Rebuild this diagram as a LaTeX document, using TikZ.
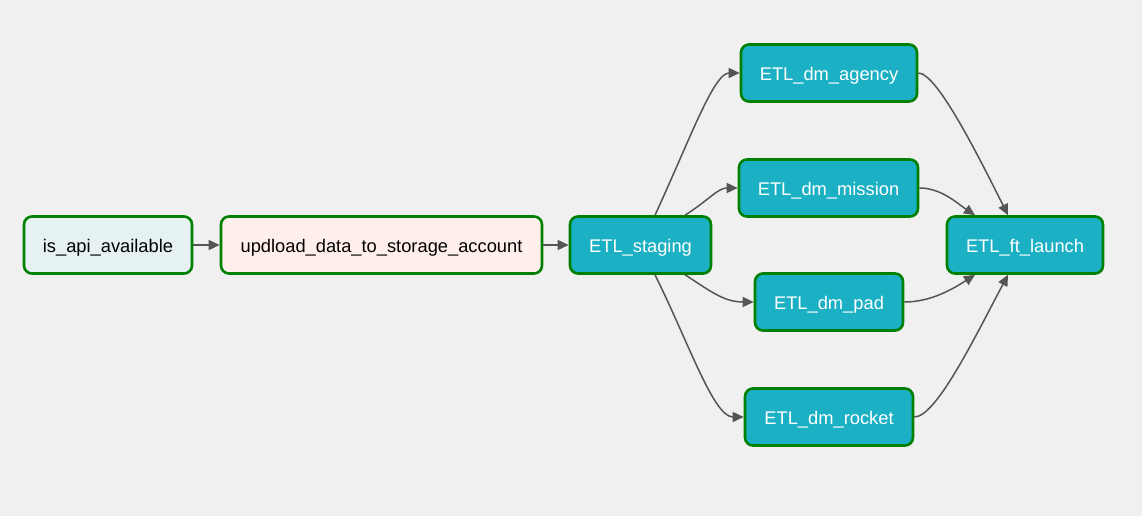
\documentclass[tikz,border=0pt]{standalone}
\usepackage{fontspec}
\setmainfont{Liberation Sans}
\usetikzlibrary{arrows.meta}
\definecolor{bgc}{HTML}{F0F0F0}
\definecolor{tealf}{HTML}{1CB0C4}
\definecolor{bord}{HTML}{008000}
\definecolor{sensorf}{HTML}{E6F1F2}
\definecolor{peachf}{HTML}{FFEFEB}
\definecolor{edgec}{HTML}{555555}
\tikzset{
  task/.style={draw=bord, line width=2.6pt, rounded corners=8pt, inner sep=0pt,
    minimum height=57pt, text height=15.4pt, text depth=0pt,
    font=\fontsize{18.3pt}{21pt}\selectfont},
  etl/.style={task, fill=tealf, text=white},
  edge/.style={draw=edgec, line width=1.5pt, -{Triangle[length=11pt,width=10pt]}},
}
\begin{document}
\begin{tikzpicture}[x=1pt,y=-1pt]
\fill[bgc] (0,0) rectangle (1142,516);
\useasboundingbox (0,0) rectangle (1142,516);
\node[task, fill=sensorf, minimum width=168pt] (api) at (108,245) {is\_api\_available};
\node[task, fill=peachf, minimum width=321pt] (upload) at (381.5,245) {updload\_data\_to\_storage\_account};
\node[etl, minimum width=141pt] (staging) at (640.5,245) {ETL\_staging};
\node[etl, minimum width=176pt] (agency) at (829,73) {ETL\_dm\_agency};
\node[etl, minimum width=179pt] (mission) at (828.5,188) {ETL\_dm\_mission};
\node[etl, minimum width=148pt] (pad) at (829,302) {ETL\_dm\_pad};
\node[etl, minimum width=168pt] (rocket) at (829,417) {ETL\_dm\_rocket};
\node[etl, minimum width=156pt] (launch) at (1025,245) {ETL\_ft\_launch};

\draw[edge] (api.east) -- (upload.west);
\draw[edge] (upload.east) -- (staging.west);

\draw[edge] ([xshift=14.5pt]staging.north) .. controls +(35,-76) and +(-26,0) .. (agency.west);
\draw[edge] ([xshift=44.5pt]staging.north) .. controls +(25,-16) and +(-20,0) .. (mission.west);
\draw[edge] ([xshift=44.5pt]staging.south) .. controls +(25,16) and +(-30,0) .. (pad.west);
\draw[edge] ([xshift=14.5pt]staging.south) .. controls +(35,71) and +(-30,0) .. (rocket.west);

\draw[edge] (agency.east) .. controls +(18,0) and +(-33,-66) .. ([xshift=-17pt]launch.north);
\draw[edge] (mission.east) .. controls +(22,0) and +(-18,-12) .. ([xshift=-50pt]launch.north);
\draw[edge] (pad.east) .. controls +(27,0) and +(-22,14) .. ([xshift=-50pt]launch.south);
\draw[edge] (rocket.east) .. controls +(22,0) and +(-33,62) .. ([xshift=-17pt]launch.south);
\end{tikzpicture}
\end{document}
